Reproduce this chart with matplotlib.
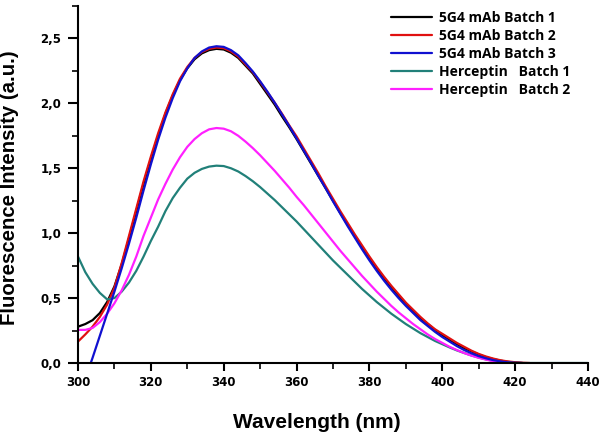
import numpy as np
import matplotlib
matplotlib.use("Agg")
import matplotlib.pyplot as plt
from matplotlib.ticker import MultipleLocator, FuncFormatter

nan = np.nan
wavelength = np.arange(300, 442, 2)

mab_batch1 = [0.28, 0.30, 0.33, 0.385, 0.47, 0.59, 0.76, 0.96, 1.17, 1.38,
              1.57, 1.75, 1.92, 2.06, 2.18, 2.27, 2.34, 2.385, 2.41, 2.42,
              2.415, 2.39, 2.35, 2.29, 2.23, 2.15, 2.07, 1.99, 1.90, 1.815,
              1.725, 1.63, 1.535, 1.44, 1.345, 1.25, 1.155, 1.065, 0.975, 0.89,
              0.805, 0.725, 0.655, 0.585, 0.52, 0.46, 0.40, 0.345, 0.30, 0.255,
              0.215, 0.18, 0.145, 0.115, 0.09, 0.065, 0.045, 0.03, 0.018, 0.009,
              0.003, 0.0, nan, nan, nan, nan, nan, nan, nan, nan, nan]
mab_batch2 = [0.165, 0.22, 0.28, 0.355, 0.45, 0.58, 0.77, 0.98, 1.19, 1.40,
              1.59, 1.77, 1.93, 2.07, 2.19, 2.28, 2.35, 2.395, 2.42, 2.43,
              2.425, 2.40, 2.36, 2.30, 2.24, 2.165, 2.085, 2.005, 1.92, 1.83,
              1.745, 1.65, 1.555, 1.46, 1.36, 1.265, 1.17, 1.08, 0.99, 0.905,
              0.82, 0.74, 0.665, 0.595, 0.53, 0.465, 0.41, 0.355, 0.305, 0.26,
              0.225, 0.19, 0.155, 0.125, 0.095, 0.07, 0.05, 0.034, 0.021, 0.012,
              0.006, 0.002, 0.0, nan, nan, nan, nan, nan, nan, nan, nan]
mab_batch3 = [-0.29, -0.12, 0.04, 0.21, 0.38, 0.55, 0.73, 0.92, 1.12, 1.33,
              1.53, 1.72, 1.89, 2.04, 2.17, 2.27, 2.35, 2.40, 2.43, 2.44,
              2.435, 2.41, 2.37, 2.31, 2.245, 2.17, 2.09, 2.005, 1.915, 1.825,
              1.73, 1.635, 1.54, 1.44, 1.345, 1.245, 1.15, 1.055, 0.965, 0.875,
              0.79, 0.71, 0.635, 0.565, 0.50, 0.44, 0.385, 0.33, 0.285, 0.24,
              0.20, 0.165, 0.13, 0.10, 0.075, 0.053, 0.036, 0.022, 0.012, 0.005,
              0.001, 0.0, nan, nan, nan, nan, nan, nan, nan, nan, nan]
herceptin_batch1 = [0.82, 0.70, 0.61, 0.54, 0.49, 0.50, 0.55, 0.62, 0.71, 0.82,
                    0.94, 1.05, 1.17, 1.27, 1.35, 1.42, 1.465, 1.495, 1.513, 1.52,
                    1.517, 1.50, 1.475, 1.44, 1.40, 1.355, 1.305, 1.255, 1.20, 1.145,
                    1.09, 1.03, 0.97, 0.91, 0.85, 0.79, 0.735, 0.68, 0.625, 0.57,
                    0.52, 0.47, 0.425, 0.38, 0.34, 0.30, 0.265, 0.23, 0.20, 0.17,
                    0.145, 0.12, 0.097, 0.077, 0.058, 0.042, 0.028, 0.017, 0.008, 0.003,
                    0.001, 0.0, 0.0, 0.0, 0.0, 0.0, 0.0, 0.0, 0.0, 0.0, 0.0]
herceptin_batch2 = [0.255, 0.255, 0.27, 0.315, 0.38, 0.46, 0.56, 0.68, 0.82, 0.98,
                    1.12, 1.26, 1.38, 1.49, 1.585, 1.665, 1.725, 1.77, 1.80, 1.81,
                    1.805, 1.785, 1.75, 1.705, 1.655, 1.60, 1.54, 1.48, 1.415, 1.35,
                    1.28, 1.215, 1.145, 1.075, 1.005, 0.935, 0.865, 0.80, 0.735, 0.67,
                    0.61, 0.55, 0.495, 0.44, 0.39, 0.345, 0.30, 0.26, 0.22, 0.185,
                    0.155, 0.125, 0.10, 0.077, 0.057, 0.04, 0.026, 0.014, 0.005, 0.0,
                    nan, nan, nan, nan, nan, nan, nan, nan, nan, nan, nan]

labels = ["5G4 mAb Batch 1", "5G4 mAb Batch 2", "5G4 mAb Batch 3",
          "Herceptin   Batch 1", "Herceptin   Batch 2"]
colors = ["#000000", "#e01010", "#1010d0", "#218079", "#ff20ff"]
series = [mab_batch1, mab_batch2, mab_batch3, herceptin_batch1, herceptin_batch2]

plt.rcParams['font.family'] = ['Liberation Sans', 'DejaVu Sans']

fig = plt.figure(figsize=(6.02, 4.44), dpi=100)
ax = fig.add_axes([78/602, 1 - 363/444, 510/602, 357/444])

order = [0, 1, 3, 4, 2]
handles = {}
for i in order:
    h, = ax.plot(wavelength, series[i], color=colors[i], lw=1.6, label=labels[i],
                 solid_capstyle='round')
    handles[i] = h

ax.set_xlim(300, 440)
ax.set_ylim(0, 2.75)
ax.spines['top'].set_visible(False)
ax.spines['right'].set_visible(False)
for s in ['left', 'bottom']:
    ax.spines[s].set_linewidth(1.5)
ax.xaxis.set_major_locator(MultipleLocator(20))
ax.xaxis.set_minor_locator(MultipleLocator(10))
ax.yaxis.set_major_locator(MultipleLocator(0.5))
ax.yaxis.set_minor_locator(MultipleLocator(0.25))
ax.yaxis.set_major_formatter(FuncFormatter(lambda v, p: f"{v:.1f}".replace('.', ',')))
ax.tick_params(axis='x', which='major', direction='out', length=6, width=1.5, labelsize=8.5, pad=3)
ax.tick_params(axis='y', which='major', direction='out', length=7, width=1.5, labelsize=8.5, pad=5)
ax.tick_params(which='minor', direction='out', length=4, width=1.2)
for t in ax.get_xticklabels() + ax.get_yticklabels():
    t.set_fontweight('bold')
    t.set_fontfamily('DejaVu Sans')

ax.set_xlabel("Wavelength (nm)", fontsize=15, fontweight='bold', va='top')
ax.xaxis.set_label_coords((317 - 78) / 510, -50 / 357)
ax.set_ylabel("Fluorescence Intensity (a.u.)", fontsize=14.7, fontweight='bold')
ax.yaxis.set_label_coords(-0.115, 0.49)

leg = ax.legend([handles[i] for i in range(5)], labels, loc='upper left',
                bbox_to_anchor=(378/602, 1 + 2/444), bbox_transform=fig.transFigure,
                frameon=False, handlelength=3.0, handletextpad=0.5, labelspacing=0.3,
                prop={'family': 'Open Sans', 'weight': 'bold', 'size': 10})

fig.savefig("out.png", dpi=100)
